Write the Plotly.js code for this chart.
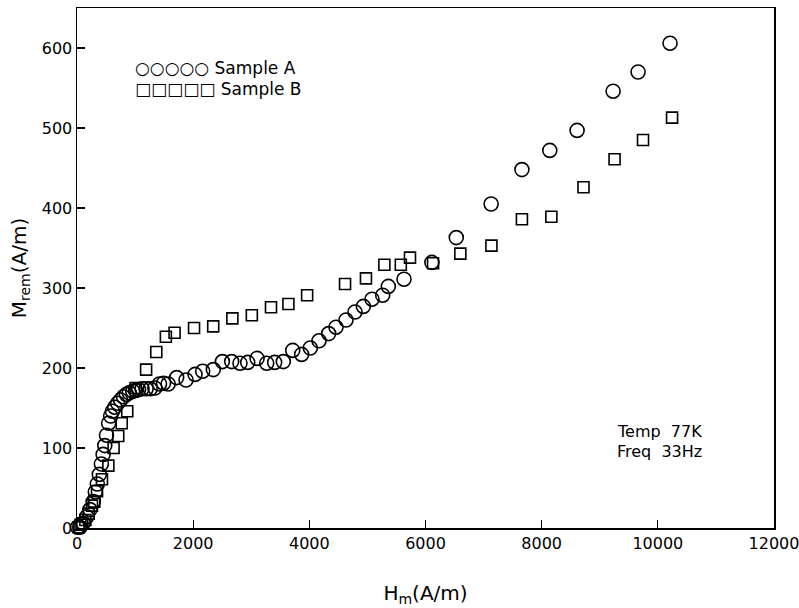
<!DOCTYPE html>
<html>
<head>
<meta charset="utf-8">
<script src="https://cdn.plot.ly/plotly-3.0.1.min.js"></script>
<style>html,body{margin:0;padding:0;background:#fff;}#chart{width:799px;height:608px;}</style>
</head>
<body>
<div id="chart"></div>
<script>
// Sample A (circles): Hm (A/m) and Mrem (A/m)
const sampleA_H = [-60, 10, 50, 108, 167, 224, 281, 315, 350, 384, 420, 450, 478, 508, 545, 580, 610, 650, 700, 750, 800, 850, 900, 960, 1010, 1060, 1120, 1190, 1260, 1340, 1420, 1490, 1570, 1716, 1877, 2032, 2164, 2347, 2503, 2663, 2806, 2939, 3100, 3266, 3403, 3552, 3714, 3868, 4017, 4167, 4333, 4459, 4632, 4786, 4930, 5079, 5263, 5360, 5630, 6110, 6530, 7130, 7660, 8140, 8610, 9230, 9660, 10210];
const sampleA_M = [0, 1, 1, 6, 14, 23, 33, 45, 55, 67, 80, 92, 103, 116, 131, 140, 146, 151, 156, 160, 164, 167, 169, 171, 172, 173, 174, 174, 174, 175, 180, 181, 180, 188, 185, 192, 196, 198, 208, 208, 206, 207, 212, 206, 207, 208, 222, 217, 225, 234, 243, 251, 260, 270, 277, 286, 291, 302, 311, 332, 363, 405, 448, 472, 497, 546, 570, 606];
// Sample B (squares)
const sampleB_H = [30, 60, 90, 144, 201, 258, 298, 345, 430, 540, 630, 710, 770, 865, 1010, 1190, 1365, 1530, 1680, 2015, 2345, 2675, 3010, 3340, 3640, 3962, 4615, 4975, 5292, 5575, 5733, 6130, 6600, 7135, 7660, 8167, 8720, 9255, 9745, 10245];
const sampleB_M = [1, 4, 6, 10, 18, 28, 33, 46, 61, 78, 100, 115, 131, 146, 175, 198, 220, 239, 244, 250, 252, 262, 266, 276, 280, 291, 305, 312, 329, 329, 338, 331, 343, 353, 386, 389, 426, 461, 485, 513];
const xTicks = [0, 2000, 4000, 6000, 8000, 10000, 12000];
const yTicks = [0, 100, 200, 300, 400, 500, 600];
const legendLabels = ["○○○○○ Sample A", "□□□□□ Sample B"];
const noteLines = ["Temp  77K", "Freq  33Hz"];

const FONT = "DejaVu Sans, sans-serif";
const traces = [
  {x: sampleA_H, y: sampleA_M, mode: "markers", type: "scatter", name: "Sample A", cliponaxis: false,
   marker: {symbol: "circle-open", size: 14, color: "#000", line: {width: 1.6, color: "#000"}}},
  {x: sampleB_H, y: sampleB_M, mode: "markers", type: "scatter", name: "Sample B", cliponaxis: false,
   marker: {symbol: "square-open", size: 11, color: "#000", line: {width: 1.6, color: "#000"}}}
];
const layout = {
  width: 799, height: 608,
  margin: {l: 77, r: 25, t: 8, b: 80},
  paper_bgcolor: "#fff", plot_bgcolor: "#fff",
  showlegend: false,
  font: {family: FONT, color: "#000", size: 16},
  xaxis: {range: [0, 12000], tickvals: xTicks, ticktext: xTicks.map(String),
    showgrid: false, zeroline: false, showline: true, linecolor: "#000", linewidth: 1.5, mirror: true,
    ticks: "inside", ticklen: 8, tickwidth: 1.2, tickcolor: "#000",
    ticklabeloverflow: "allow",
    tickfont: {family: FONT, size: 16},
    title: {text: "H<sub>m</sub>(A/m)", font: {family: FONT, size: 20}, standoff: 34}},
  yaxis: {range: [0, 650], tickvals: yTicks, ticktext: yTicks.map(String),
    showgrid: false, zeroline: false, showline: true, linecolor: "#000", linewidth: 1.5, mirror: true,
    ticks: "inside", ticklen: 8, tickwidth: 1.2, tickcolor: "#000",
    tickfont: {family: FONT, size: 16},
    title: {text: "M<sub>rem</sub>(A/m)", font: {family: FONT, size: 20}, standoff: 10}},
  annotations: [
    {xref: "paper", yref: "paper", x: 0.080, y: 0.885, xanchor: "left", yanchor: "middle", showarrow: false,
     text: legendLabels[0], font: {family: FONT, size: 17}},
    {xref: "paper", yref: "paper", x: 0.080, y: 0.845, xanchor: "left", yanchor: "middle", showarrow: false,
     text: legendLabels[1], font: {family: FONT, size: 17}},
    {xref: "paper", yref: "paper", x: 0.772, y: 0.185, xanchor: "left", yanchor: "middle", showarrow: false,
     text: noteLines[0], font: {family: FONT, size: 16}},
    {xref: "paper", yref: "paper", x: 0.772, y: 0.148, xanchor: "left", yanchor: "middle", showarrow: false,
     text: noteLines[1], font: {family: FONT, size: 16}}
  ]
};
Plotly.newPlot("chart", traces, layout, {displayModeBar: false, staticPlot: true});
</script>
</body>
</html>
